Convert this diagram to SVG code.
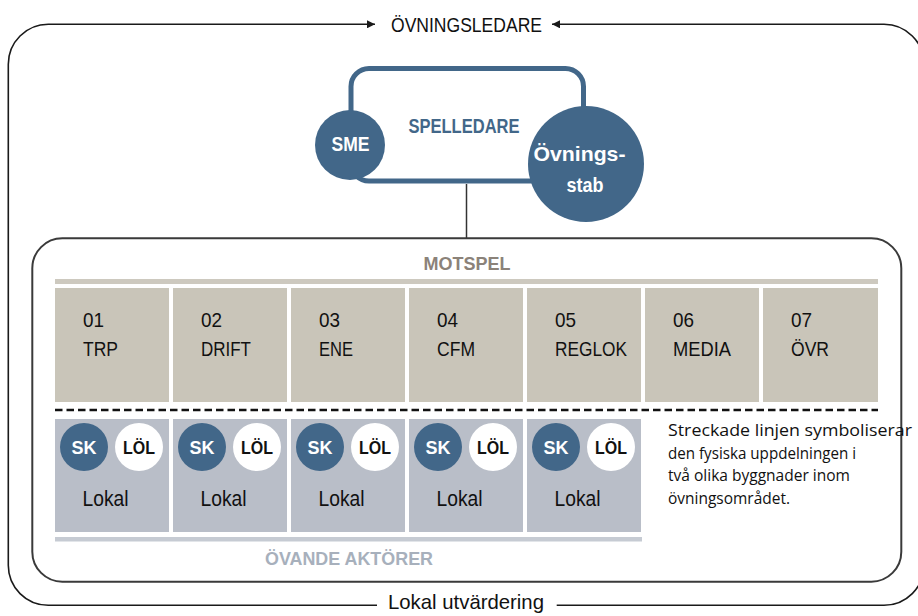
<svg xmlns="http://www.w3.org/2000/svg" width="918" height="616" viewBox="0 0 918 616">
<defs>
<marker id="arr" viewBox="0 0 10 10" refX="10" refY="5" markerWidth="9" markerHeight="8" markerUnits="userSpaceOnUse" orient="auto">
<path d="M0,0 L10,5 L0,10 Z" fill="#1a1a1a"/>
</marker>
<style>
.frame{fill:none;stroke:#1a1a1a;stroke-width:1.6}
.inner{fill:none;stroke:#3a3a3a;stroke-width:2}
.t{font-family:"Liberation Sans Narrow","Liberation Sans",Arial,sans-serif;fill:#111}
.b{font-family:"Liberation Sans Narrow","Liberation Sans",Arial,sans-serif;font-weight:bold}
.note{font-family:"Open Sans","Noto Sans","Liberation Sans",sans-serif;font-size:16.5px;fill:#111}
.mot{fill:#c9c5b9}
.ova{fill:#b9bec8}
.sk{fill:#426789}
.lol{fill:#ffffff}
.lbl{font-size:21px}
.skt{font-size:19px;fill:#fff}
.lolt{font-size:19px;fill:#111}
</style>
</defs>

<g id="connectors">
<path class="frame" d="M377,605.3 L48.3,605.3 A40,40 0 0 1 8.3,565.3 L8.3,64.3 A40,40 0 0 1 48.3,24.3 L375,24.3" marker-end="url(#arr)"/>
<path class="frame" d="M556.7,605.3 L884,605.3 A40,40 0 0 0 924,565.3 L924,64.3 A40,40 0 0 0 884,24.3 L552,24.3" marker-end="url(#arr)"/>
<line x1="466.5" y1="184" x2="466.5" y2="238" stroke="#333" stroke-width="1.5"/>
</g>

<g id="ovningsledare">
<text class="t" x="391" y="31.7" font-size="21" textLength="151" lengthAdjust="spacingAndGlyphs">ÖVNINGSLEDARE</text>
</g>

<g id="lokal-utvardering">
<text class="t" x="388" y="609" font-size="21" textLength="156" lengthAdjust="spacingAndGlyphs">Lokal utvärdering</text>
</g>

<g id="spelledare">
<rect x="351" y="68.5" width="232.5" height="112.5" rx="18" fill="#fff" stroke="#426789" stroke-width="5"/>
<text class="b" x="408.5" y="132.7" font-size="19.5" fill="#426789" textLength="111" lengthAdjust="spacingAndGlyphs">SPELLEDARE</text>
</g>

<g id="sme">
<circle cx="350" cy="145" r="35" class="sk"/>
<text class="b" x="350.5" y="150.5" font-size="19.5" fill="#fff" text-anchor="middle" textLength="38" lengthAdjust="spacingAndGlyphs">SME</text>
</g>

<g id="ovningsstab">
<circle cx="586" cy="164" r="58" class="sk"/>
<text class="b" x="579.5" y="161" font-size="21" fill="#fff" text-anchor="middle" textLength="92" lengthAdjust="spacingAndGlyphs">Övnings-</text>
<text class="b" x="585" y="192" font-size="21" fill="#fff" text-anchor="middle" textLength="37" lengthAdjust="spacingAndGlyphs">stab</text>
</g>

<g id="inner-frame">
<path class="inner" d="M62.3,238.3 L871.3,238.3 A30,30 0 0 1 901.3,268.3 L901.3,551.7 A30,30 0 0 1 871.3,581.7 L62.3,581.7 A30,30 0 0 1 32.3,551.7 L32.3,268.3 A30,30 0 0 1 62.3,238.3 Z"/>
</g>

<g id="motspel">
<text class="b" x="423.5" y="270" font-size="19" fill="#8b8279" textLength="87" lengthAdjust="spacingAndGlyphs">MOTSPEL</text>
<rect x="55" y="279" width="823" height="5" fill="#cdc9bf"/>
</g>

<g id="m01"><rect class="mot" x="55" y="288" width="114" height="114"/><text class="t lbl" x="83" y="327" textLength="21" lengthAdjust="spacingAndGlyphs">01</text><text class="t lbl" x="83" y="356" textLength="35" lengthAdjust="spacingAndGlyphs">TRP</text></g>
<g id="m02"><rect class="mot" x="173" y="288" width="114" height="114"/><text class="t lbl" x="201" y="327" textLength="21" lengthAdjust="spacingAndGlyphs">02</text><text class="t lbl" x="201" y="356" textLength="50" lengthAdjust="spacingAndGlyphs">DRIFT</text></g>
<g id="m03"><rect class="mot" x="291" y="288" width="114" height="114"/><text class="t lbl" x="319" y="327" textLength="21" lengthAdjust="spacingAndGlyphs">03</text><text class="t lbl" x="319" y="356" textLength="34" lengthAdjust="spacingAndGlyphs">ENE</text></g>
<g id="m04"><rect class="mot" x="409" y="288" width="114" height="114"/><text class="t lbl" x="437" y="327" textLength="21" lengthAdjust="spacingAndGlyphs">04</text><text class="t lbl" x="437" y="356" textLength="38" lengthAdjust="spacingAndGlyphs">CFM</text></g>
<g id="m05"><rect class="mot" x="527" y="288" width="114" height="114"/><text class="t lbl" x="555" y="327" textLength="21" lengthAdjust="spacingAndGlyphs">05</text><text class="t lbl" x="555" y="356" textLength="72" lengthAdjust="spacingAndGlyphs">REGLOK</text></g>
<g id="m06"><rect class="mot" x="645" y="288" width="114" height="114"/><text class="t lbl" x="673" y="327" textLength="21" lengthAdjust="spacingAndGlyphs">06</text><text class="t lbl" x="673" y="356" textLength="58" lengthAdjust="spacingAndGlyphs">MEDIA</text></g>
<g id="m07"><rect class="mot" x="763" y="288" width="115" height="114"/><text class="t lbl" x="791" y="327" textLength="21" lengthAdjust="spacingAndGlyphs">07</text><text class="t lbl" x="791" y="356" textLength="38" lengthAdjust="spacingAndGlyphs">ÖVR</text></g>

<g id="divider">
<line x1="55" y1="410" x2="878" y2="410" stroke="#111" stroke-width="2.5" stroke-dasharray="7.5 4"/>
</g>

<g id="o1"><rect class="ova" x="55" y="419" width="114" height="113"/>
<circle class="sk" cx="84" cy="447" r="24"/><text class="b skt" x="84" y="453.5" text-anchor="middle" textLength="25" lengthAdjust="spacingAndGlyphs">SK</text>
<circle class="lol" cx="139" cy="447" r="24"/><text class="b lolt" x="139" y="453.5" text-anchor="middle" textLength="32" lengthAdjust="spacingAndGlyphs">LÖL</text>
<text class="t" x="105.5" y="506" font-size="22" text-anchor="middle" textLength="46" lengthAdjust="spacingAndGlyphs">Lokal</text></g>
<g id="o2"><rect class="ova" x="173" y="419" width="114" height="113"/>
<circle class="sk" cx="202" cy="447" r="24"/><text class="b skt" x="202" y="453.5" text-anchor="middle" textLength="25" lengthAdjust="spacingAndGlyphs">SK</text>
<circle class="lol" cx="257" cy="447" r="24"/><text class="b lolt" x="257" y="453.5" text-anchor="middle" textLength="32" lengthAdjust="spacingAndGlyphs">LÖL</text>
<text class="t" x="223.5" y="506" font-size="22" text-anchor="middle" textLength="46" lengthAdjust="spacingAndGlyphs">Lokal</text></g>
<g id="o3"><rect class="ova" x="291" y="419" width="114" height="113"/>
<circle class="sk" cx="320" cy="447" r="24"/><text class="b skt" x="320" y="453.5" text-anchor="middle" textLength="25" lengthAdjust="spacingAndGlyphs">SK</text>
<circle class="lol" cx="375" cy="447" r="24"/><text class="b lolt" x="375" y="453.5" text-anchor="middle" textLength="32" lengthAdjust="spacingAndGlyphs">LÖL</text>
<text class="t" x="341.5" y="506" font-size="22" text-anchor="middle" textLength="46" lengthAdjust="spacingAndGlyphs">Lokal</text></g>
<g id="o4"><rect class="ova" x="409" y="419" width="114" height="113"/>
<circle class="sk" cx="438" cy="447" r="24"/><text class="b skt" x="438" y="453.5" text-anchor="middle" textLength="25" lengthAdjust="spacingAndGlyphs">SK</text>
<circle class="lol" cx="493" cy="447" r="24"/><text class="b lolt" x="493" y="453.5" text-anchor="middle" textLength="32" lengthAdjust="spacingAndGlyphs">LÖL</text>
<text class="t" x="459.5" y="506" font-size="22" text-anchor="middle" textLength="46" lengthAdjust="spacingAndGlyphs">Lokal</text></g>
<g id="o5"><rect class="ova" x="527" y="419" width="114" height="113"/>
<circle class="sk" cx="556" cy="447" r="24"/><text class="b skt" x="556" y="453.5" text-anchor="middle" textLength="25" lengthAdjust="spacingAndGlyphs">SK</text>
<circle class="lol" cx="611" cy="447" r="24"/><text class="b lolt" x="611" y="453.5" text-anchor="middle" textLength="32" lengthAdjust="spacingAndGlyphs">LÖL</text>
<text class="t" x="577.5" y="506" font-size="22" text-anchor="middle" textLength="46" lengthAdjust="spacingAndGlyphs">Lokal</text></g>

<g id="ovande-aktorer">
<rect x="55" y="537" width="587" height="4.5" fill="#c6cbd3"/>
<text class="b" x="265" y="565" font-size="19" fill="#a7b0bc" textLength="168" lengthAdjust="spacingAndGlyphs">ÖVANDE AKTÖRER</text>
</g>

<g id="note">
<text class="note" x="668" y="436" font-size="17" textLength="244" lengthAdjust="spacingAndGlyphs">Streckade linjen symboliserar</text>
<text class="note" x="668" y="458.5" font-size="17" textLength="188" lengthAdjust="spacingAndGlyphs">den fysiska uppdelningen i</text>
<text class="note" x="668" y="481" font-size="17" textLength="182" lengthAdjust="spacingAndGlyphs">två olika byggnader inom</text>
<text class="note" x="668" y="503.5" font-size="17" textLength="122" lengthAdjust="spacingAndGlyphs">övningsområdet.</text>
</g>
</svg>
